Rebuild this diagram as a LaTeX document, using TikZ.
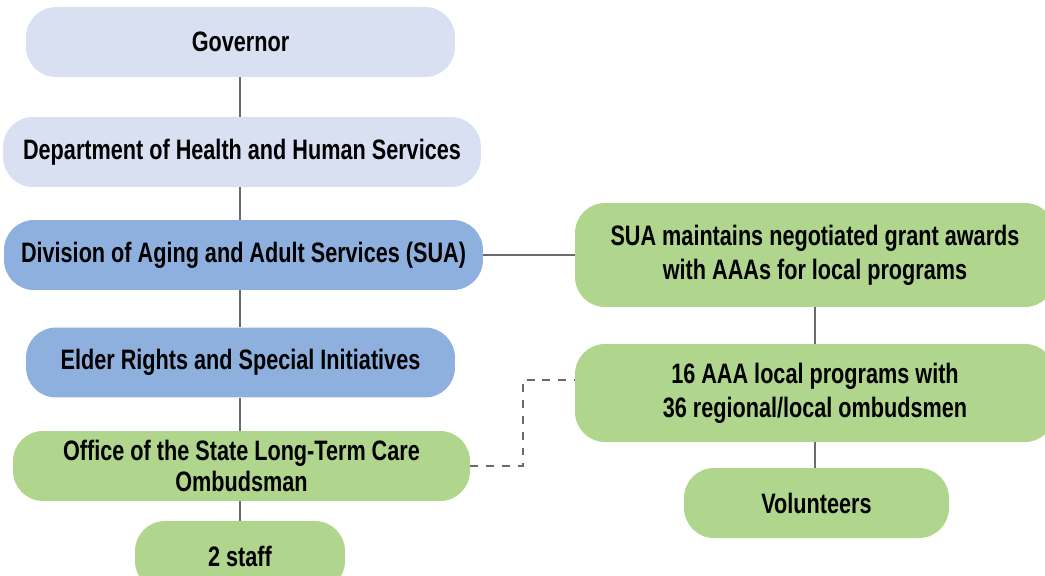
\documentclass[tikz,border=0pt]{standalone}
\usepackage{fontspec}
\setmainfont{Liberation Sans}[FakeStretch=0.77]
\definecolor{paleblue}{RGB}{217,224,242}
\definecolor{midblue}{RGB}{142,176,222}
\definecolor{leafgreen}{RGB}{175,214,140}
\definecolor{linkgray}{RGB}{105,105,110}

\begin{document}
\begin{tikzpicture}[x=0.02cm, y=-0.02cm,
    box/.style={rounded corners=0.6cm, minimum height=1.4cm, inner sep=0pt,
                align=center, font=\bfseries\fontsize{16}{19.5}\selectfont},
    topbox/.style={box, fill=paleblue},
    suabox/.style={box, fill=midblue},
    localbox/.style={box, fill=leafgreen},
    link/.style={draw=linkgray, line width=1.3pt},
    dashlink/.style={link, dash pattern=on 4.5pt off 4.5pt}]
  \useasboundingbox (0,0) rectangle (1045,575);
  \clip (0,0) rectangle (1045,575);

  % state chain of command, down the left column
  \node[topbox, minimum width=8.58cm] (gov) at (240.5,42) {Governor};
  \node[topbox, minimum width=9.56cm] (dhhs) at (242,152) {Department of Health and Human Services};
  \node[suabox, minimum width=9.58cm] (daas) at (243.5,255) {Division of Aging and Adult Services (SUA)};
  \node[suabox, minimum width=8.58cm] (elder) at (240.5,362.5) {Elder Rights and Special Initiatives};
  \node[localbox, minimum width=9.14cm, font=\bfseries\fontsize{16}{17.5}\selectfont] (office) at (241.5,466)
    {Office of the State Long-Term Care\\Ombudsman};
  \node[localbox, minimum width=4.2cm] (staff) at (240,556) {2 staff};

  % local programs, right column
  \node[localbox, minimum width=9.6cm, minimum height=2.08cm] (grant) at (815,255)
    {SUA maintains negotiated grant awards\\with AAAs for local programs};
  \node[localbox, minimum width=9.6cm, minimum height=1.96cm] (aaa) at (815,393)
    {16 AAA local programs with\\36 regional/local ombudsmen};
  \node[localbox, minimum width=5.3cm] (vol) at (816.5,503) {Volunteers};

  % connectors (the left trunk runs straight down at x=240)
  \coordinate (trunk) at (240,0);
  \draw[link] (gov.south -| trunk) -- (dhhs.north -| trunk);
  \draw[link] (dhhs.south -| trunk) -- (daas.north -| trunk);
  \draw[link] (daas.south -| trunk) -- (elder.north -| trunk);
  \draw[link] (elder.south -| trunk) -- (office.north -| trunk);
  \draw[link] (office.south -| trunk) -- (staff.north -| trunk);
  \draw[link] (daas.east) -- (daas.east -| grant.west);
  \draw[link] (grant.south) -- (aaa.north);
  \draw[link] (aaa.south) -- (aaa.south |- vol.north);
  \coordinate (elbow) at (523,380);
  \draw[dashlink] (office.east) -| (elbow) -- (elbow -| aaa.west);
\end{tikzpicture}
\end{document}
